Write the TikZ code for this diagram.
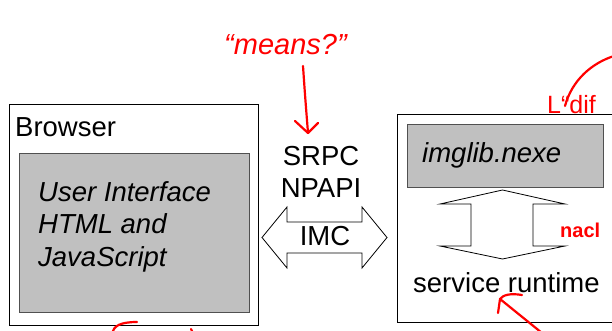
\documentclass[tikz,border=0pt]{standalone}
\usepackage{fontspec}
\setmainfont{Liberation Sans}
\usetikzlibrary{calc}
\definecolor{boxgray}{HTML}{C0C0C0}
\definecolor{edgegray}{HTML}{505050}
\definecolor{pen}{HTML}{FF0000}
\tikzset{
  frame/.style={draw=black, line width=1pt, fill=white, anchor=north west, inner sep=0pt},
  graybox/.style={draw=edgegray, line width=1pt, fill=boxgray, anchor=north west, inner sep=0pt},
  label/.style={inner sep=0pt, anchor=base west, font=\fontsize{27.5}{32.5}\selectfont},
  ilabel/.style={label, font=\fontsize{27.5}{32.5}\selectfont\itshape},
  clabel/.style={inner sep=0pt, anchor=base, font=\fontsize{27.5}{32}\selectfont},
  arrowshape/.style={draw=black, line width=0.8pt, fill=white, line join=miter},
  ink/.style={draw=pen, line width=2.2pt, line cap=round, line join=round},
  inktext/.style={text=pen, inner sep=0pt, anchor=base west, font=\fontsize{29}{32}\selectfont\itshape},
}
\begin{document}
\begin{tikzpicture}[x=1pt,y=-1pt]
\useasboundingbox (0,0) rectangle (612,331);
\clip (0,0) rectangle (612,331);
\fill[white] (0,0) rectangle (612,331);

% Browser
\node[frame, minimum width=249pt, minimum height=221pt] (browser) at (9,104) {};
\node[graybox, minimum width=230pt, minimum height=159pt] (ui) at (19,153) {};
\node[label] (browsertxt) at (15,137) {Browser};
\node[ilabel, align=left] (uitxt) at (38,266) {User Interface\\HTML and\\JavaScript};

% Service box
\node[frame, minimum width=222pt, minimum height=208pt] (service) at (397,114) {};
\node[graybox, minimum width=196pt, minimum height=63pt] (imglib) at (407,124) {};
\node[ilabel] (imgtxt) at (422,162) {imglib.nexe};
\node[label] (srtxt) at (413,292) {service runtime};
\node[inner sep=0pt, anchor=base west, text=pen, font=\fontsize{20}{22}\selectfont\bfseries] (nacl) at (560,237) {nacl};

% vertical double arrow
\draw[arrowshape] (502.5,190) -- (565,204) -- (533,204) -- (533,246) -- (565,246)
  -- (502.5,259) -- (440,246) -- (471,246) -- (471,204) -- (440,204) -- cycle;

% horizontal double arrow
\draw[arrowshape] (262,237.5) -- (287,207) -- (287,222) -- (362,222) -- (362,207)
  -- (387,237.5) -- (362,268) -- (362,253) -- (287,253) -- (287,268) -- cycle;
\node[clabel] (imc) at (325,245) {IMC};
\node[clabel] (srpc) at (321,165) {SRPC};
\node[clabel] (npapi) at (321,197) {NPAPI};

% red annotations
\node[inktext] (means) at (224,55) {“means?”};
\coordinate (mstart) at (303,66);
\coordinate (mtip) at (308,133);
\draw[ink] (mstart) .. controls (305,95) .. (mtip);
\draw[ink] (295,121) -- (mtip) -- (318,123);

\draw[ink] (565,106) .. controls (572,80) and (592,63) .. (614,56);
\node[inktext, font=\fontsize{25}{28}\selectfont] (dif) at (547,114) {L“dif};

\coordinate (rtip) at (500,299);
\draw[ink] (522,295) .. controls (510,293) and (503,295) .. (rtip) -- (498,313);
\draw[ink] (rtip) -- (542,333);

\draw[ink] (112,333) .. controls (114,326) and (120,322) .. (137,322);
\draw[ink] (191,329) -- (193,333);
\end{tikzpicture}
\end{document}
